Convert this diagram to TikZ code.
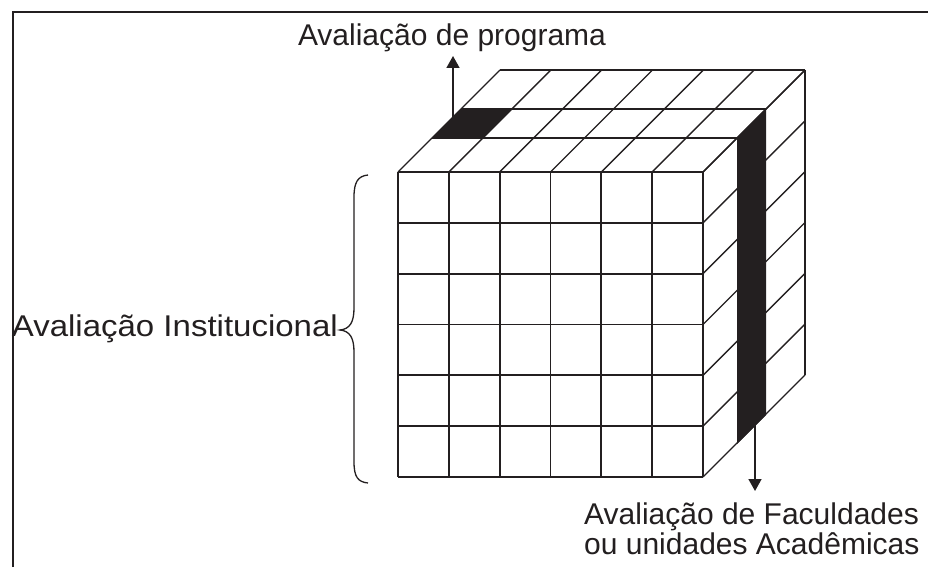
\documentclass[tikz,border=0pt]{standalone}
\usepackage{fontspec}
\setmainfont{Liberation Sans}
\usetikzlibrary{arrows.meta}
\definecolor{ink}{HTML}{231F20}
\begin{document}
\begin{tikzpicture}[x=1pt,y=-1pt,
  grid/.style={line width=1.8pt, draw=ink},
  diag/.style={line width=1.4pt, draw=ink},
  lbl/.style={font=\fontsize{30}{32}\selectfont, text=ink, inner sep=0pt},
  arr/.style={line width=1.6pt, draw=ink, -{Triangle[length=12pt,width=13pt]}}]
\useasboundingbox (0,0) rectangle (928,567);
% frame
\draw[line width=2.2pt, ink] (13,567) -- (13,12) -- (928,12);
% front face
\foreach \i in {0,...,6} {
  \draw[grid] ({398+50.83*\i},172) -- ({398+50.83*\i},477);
  \draw[grid] (398,{172+50.83*\i}) -- (703,{172+50.83*\i});
}
% top face
\foreach \i in {0,...,6}
  \draw[diag] ({398+50.83*\i},172) -- ({500+50.83*\i},70);
\draw[diag] (500,70) -- (805,70);
\draw[grid] (461,109) -- (766,109);
\draw[grid] (432,138) -- (737,138);
% right face
\foreach \j in {0,...,6}
  \draw[diag] (703,{172+50.83*\j}) -- (805,{70+50.83*\j});
\draw[diag] (805,70) -- (805,375);
% black cells
\fill[ink] (432,138) -- (483,138) -- (512,109) -- (461,109) -- cycle;
\fill[ink] (737,138) -- (766,109) -- (766,415) -- (737,444) -- cycle;
% brace
\draw[line width=1.3pt, ink] (368,175) .. controls (358,176) and (354,182) .. (354,197)
  -- (354,308) .. controls (354,322) and (350,329) .. (340,330)
  .. controls (350,331) and (354,338) .. (354,352)
  -- (354,462) .. controls (354,477) and (358,482) .. (368,483);
% labels
\node[lbl, anchor=base] (prog) at (452,46) {Avaliação de programa};
\node[lbl, anchor=base east] (inst) at (338,336) {\addfontfeature{FakeStretch=1.1}Avaliação Institucional};
\node[lbl, anchor=base west] (fac1) at (584,524) {Avaliação de Faculdades};
\node[lbl, anchor=base west] (fac2) at (584,554) {ou unidades Acadêmicas};
% arrows
\coordinate (progcell) at (453,132);
\coordinate (progtip) at (453,56);
\draw[arr] (progcell) -- (progtip);
\coordinate (facstrip) at (755,418);
\coordinate (factip) at (755,491);
\draw[arr] (facstrip) -- (factip);
\end{tikzpicture}
\end{document}
